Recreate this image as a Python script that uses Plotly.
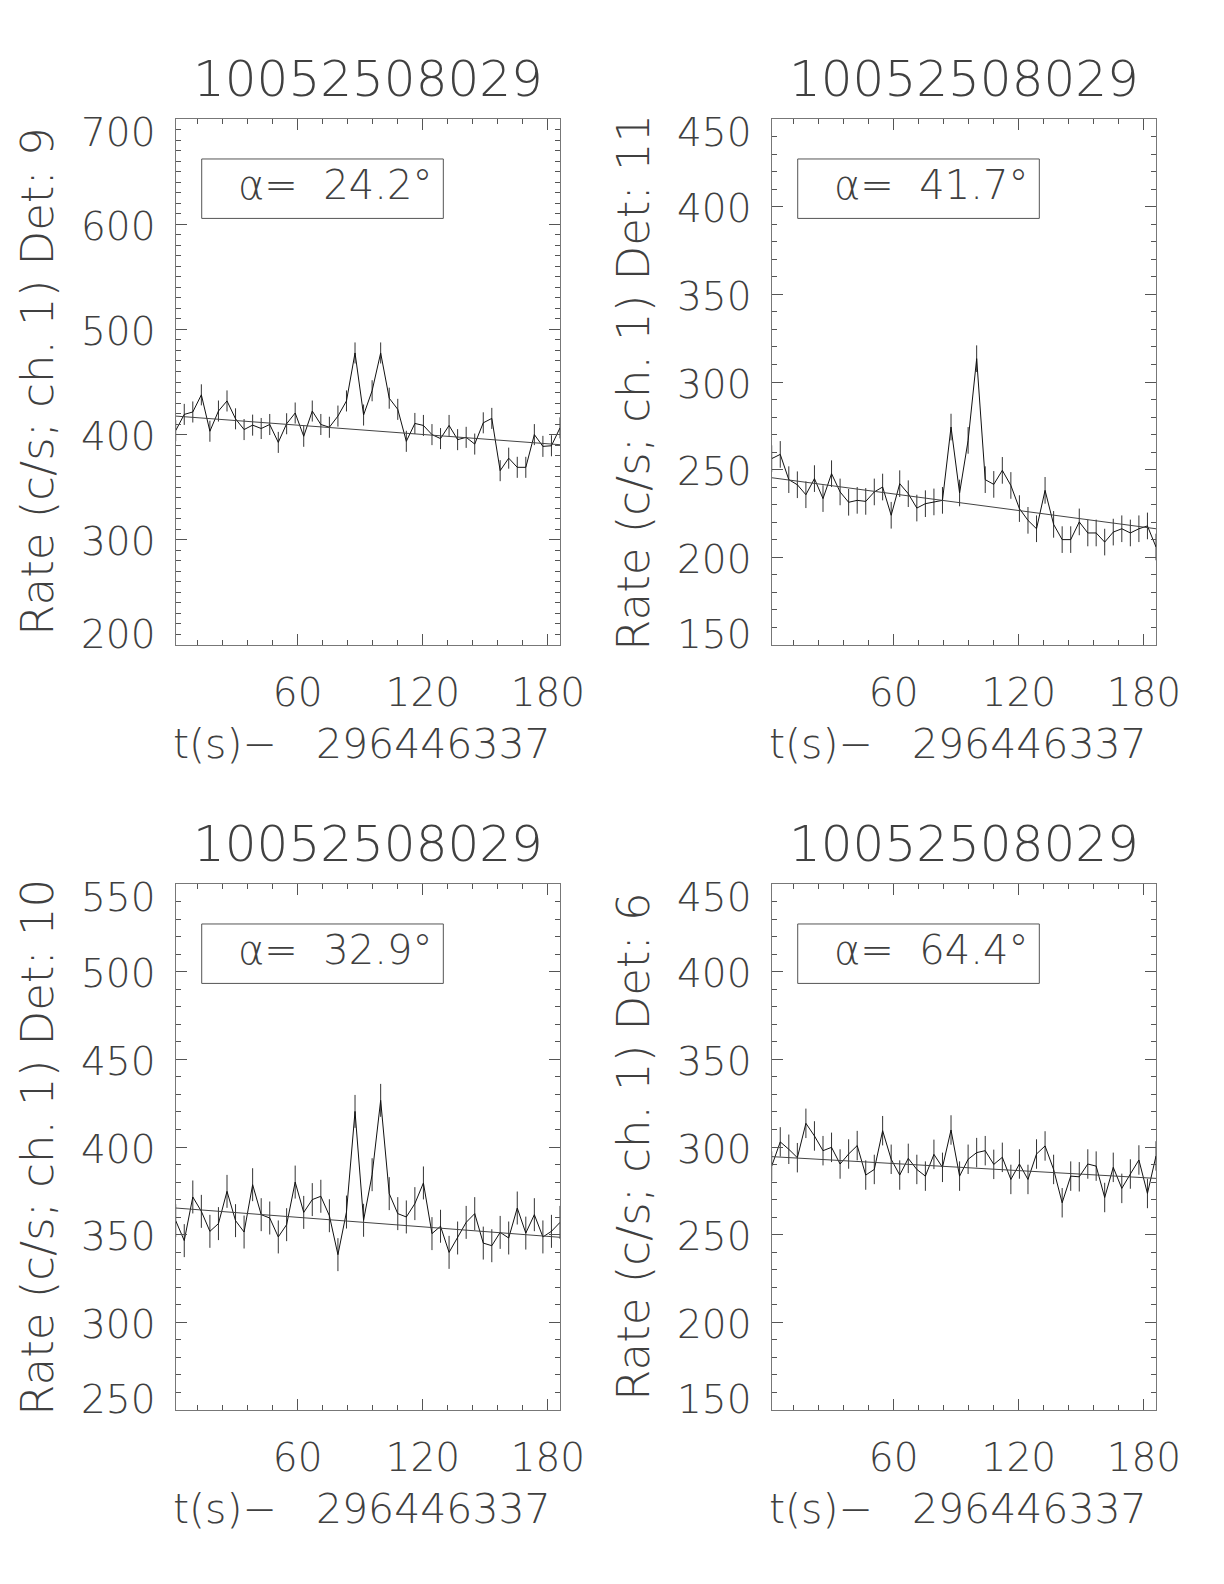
import plotly.graph_objects as go

# ---------------- data ----------------
TIMES = [1.5, 5.6, 9.7, 13.8, 17.9, 22.0, 26.1, 30.2, 34.3, 38.4, 42.5, 46.6,
         50.7, 54.7, 58.8, 62.9, 67.0, 71.1, 75.2, 79.3, 83.4, 87.5, 91.6, 95.7,
         99.8, 103.9, 108.0, 112.1, 116.2, 120.3, 124.4, 128.5, 132.6, 136.7,
         140.8, 144.9, 149.0, 153.1, 157.1, 161.2, 165.3, 169.4, 173.5, 177.6,
         181.7, 185.8]

RATE_DET9 = [403.8, 419.2, 421.5, 437.8, 403.2, 422.4, 432.0, 415.0, 404.8, 409.0,
             405.8, 409.6, 392.6, 410.3, 420.5, 398.4, 422.4, 409.6, 407.0, 417.6,
             432.0, 477.6, 418.6, 441.7, 477.6, 434.6, 424.0, 393.6, 410.6, 408.7,
             400.0, 396.2, 408.7, 395.2, 397.4, 391.0, 411.2, 415.4, 365.7, 377.6,
             368.9, 368.9, 400.0, 388.8, 389.4, 406.4]
RATE_DET11 = [256.3, 258.7, 244.3, 241.4, 235.7, 244.9, 233.5, 247.7, 237.3, 231.4,
              232.5, 231.9, 237.3, 240.1, 224.0, 242.0, 236.3, 228.1, 230.6, 231.6,
              232.5, 274.3, 236.7, 266.7, 313.3, 244.3, 241.6, 249.6, 241.0, 227.8,
              221.1, 216.3, 238.2, 218.8, 210.1, 210.1, 220.2, 213.9, 213.9, 208.7,
              214.4, 216.3, 213.9, 216.3, 217.9, 205.9]
RATE_DET10 = [358.0, 346.6, 371.5, 363.3, 351.9, 356.3, 374.7, 358.0, 351.5, 378.5,
              361.4, 359.5, 348.7, 355.7, 380.0, 362.7, 370.0, 371.9, 360.8, 338.6,
              362.9, 420.3, 358.2, 384.2, 426.6, 373.4, 362.0, 360.1, 367.7, 379.5,
              350.6, 354.8, 339.9, 348.1, 357.0, 362.0, 345.2, 343.7, 351.3, 348.1,
              365.2, 350.9, 361.4, 348.7, 351.9, 357.0]
RATE_DET6 = [289.1, 302.9, 298.7, 293.9, 313.5, 306.3, 297.9, 299.8, 290.3, 296.0,
             300.8, 284.0, 287.2, 309.3, 293.0, 284.0, 293.5, 287.2, 283.4, 295.8,
             288.4, 309.7, 283.4, 293.0, 296.8, 297.9, 290.1, 294.1, 281.5, 290.3,
             281.5, 296.0, 300.6, 287.2, 268.2, 283.4, 283.0, 290.3, 289.1, 271.2,
             288.4, 276.4, 284.6, 292.6, 273.5, 294.9]

ERRORS = [10.0, 7.6, 9.4, 8.4]           # typical 1-sigma error per panel
FIT_ENDS = [[417.6, 390.4], [245.4, 216.3], [365.2, 348.5], [294.5, 282.1]]
FIT_TIMES = [1.5, 185.8]

RATES = [RATE_DET9, RATE_DET11, RATE_DET10, RATE_DET6]
DETS = ["9", "11", "10", "6"]
ALPHAS = ["24.2", "41.7", "32.9", "64.4"]
YRANGES = [[200, 700], [150, 450], [250, 550], [150, 450]]
YDTICKS = [100, 50, 50, 50]
YTICKVALS = [[200, 300, 400, 500, 600, 700],
             [150, 200, 250, 300, 350, 400, 450],
             [250, 300, 350, 400, 450, 500, 550],
             [150, 200, 250, 300, 350, 400, 450]]
XTICKVALS = [60, 120, 180]
TITLE = "10052508029"
XTITLE = "t(s)\u2212\u00a0\u00a0\u00a0296446337"

# ---------------- layout geometry ----------------
W, H = 1224, 1584
XDOM = [[175.7 / W, 560.0 / W], [771.7 / W, 1156.0 / W]]
YDOM = [[1 - 645.0 / H, 1 - 119.0 / H], [1 - 1410.0 / H, 1 - 884.0 / H]]

FONT = "DejaVu Sans"
FW = 200
TXT = "#404040"
AXC = "#777777"

fig = go.Figure()
annotations = []
shapes = []

for i in range(4):
    r, c = divmod(i, 2)
    n = i + 1
    xa = "x" if n == 1 else f"x{n}"
    ya = "y" if n == 1 else f"y{n}"
    xk = "xaxis" if n == 1 else f"xaxis{n}"
    yk = "yaxis" if n == 1 else f"yaxis{n}"

    fig.add_trace(go.Scatter(
        x=TIMES, y=RATES[i], mode="lines", xaxis=xa, yaxis=ya,
        line=dict(color="#111111", width=1),
        error_y=dict(type="constant", value=ERRORS[i], thickness=1, width=0,
                     color="#333333"),
        showlegend=False, hoverinfo="skip"))
    fig.add_trace(go.Scatter(
        x=FIT_TIMES, y=FIT_ENDS[i], mode="lines", xaxis=xa, yaxis=ya,
        line=dict(color="#444444", width=1), showlegend=False, hoverinfo="skip"))

    common = dict(showline=True, linecolor=AXC, linewidth=1, mirror="allticks",
                  ticks="inside", ticklen=11, tickcolor="#555555", tickwidth=1,
                  showgrid=False, zeroline=False, fixedrange=True, automargin=False)
    fig.layout[xk] = dict(
        domain=XDOM[c], range=[1.5, 185.8], anchor=ya,
        tickmode="array", tickvals=XTICKVALS, ticktext=[str(v) for v in XTICKVALS],
        tickfont=dict(family=FONT, size=39, color=TXT, weight=FW),
        ticklabelstandoff=13,
        minor=dict(ticks="inside", ticklen=5, tickcolor="#555555", dtick=12, tick0=0),
        **common)
    fig.layout[yk] = dict(
        domain=YDOM[r], range=YRANGES[i], anchor=xa,
        dtick=YDTICKS[i], tick0=0, showticklabels=False,
        minor=dict(ticks="inside", ticklen=5, tickcolor="#555555", dtick=10, tick0=0),
        **common)

    xd = f"{xa} domain"
    yd = f"{ya} domain"
    # y tick labels
    lo, hi = YRANGES[i]
    for v in YTICKVALS[i]:
        sh = -13 if v == hi else (11 if v == lo else -2)
        annotations.append(dict(
            x=0, xref=xd, y=v, yref=ya, xanchor="right", yanchor="middle",
            xshift=-19, yshift=sh, text=str(v), showarrow=False,
            font=dict(family=FONT, size=39, color=TXT, weight=FW)))
    # panel title
    annotations.append(dict(
        x=0.5, xref=xd, y=1, yref=yd, yshift=40, xanchor="center", yanchor="middle",
        text=TITLE, showarrow=False,
        font=dict(family=FONT, size=50, color=TXT, weight=FW)))
    # x title
    annotations.append(dict(
        x=0.5, xref=xd, y=0, yref=yd, yshift=-99, xshift=-6, xanchor="center",
        yanchor="middle", text=XTITLE, showarrow=False,
        font=dict(family=FONT, size=41, color=TXT, weight=FW)))
    # y title
    annotations.append(dict(
        x=0, xref=xd, y=0.5, yref=yd, xshift=-139, xanchor="center",
        yanchor="middle", textangle=-90,
        text=f"Rate (c/s; ch. 1) Det: {DETS[i]}", showarrow=False,
        font=dict(family=FONT, size=45, color=TXT, weight=FW)))
    # alpha box
    shapes.append(dict(type="rect", xref=xd, yref=yd, x0=0.0677, x1=0.6964,
                       y0=0.811, y1=0.924, line=dict(color="#555555", width=1)))
    annotations.append(dict(
        x=0.4145, xref=xd, y=0.8745, yref=yd, xanchor="center", yanchor="middle",
        text=f"\u03b1=\u00a0\u00a0{ALPHAS[i]}\u00b0", showarrow=False,
        font=dict(family=FONT, size=40, color=TXT, weight=FW)))

fig.update_layout(
    width=W, height=H, autosize=False,
    margin=dict(l=0, r=0, t=0, b=0, pad=0, autoexpand=False),
    paper_bgcolor="white", plot_bgcolor="white",
    annotations=annotations, shapes=shapes, showlegend=False)

fig.write_html(
    "out.html",
    config={"responsive": False, "displayModeBar": False},
    default_width="1224px", default_height="1584px",
    post_script=("document.documentElement.style.overflow='hidden';"
                 "document.body.style.margin='0';document.body.style.overflow='hidden';"),
)
